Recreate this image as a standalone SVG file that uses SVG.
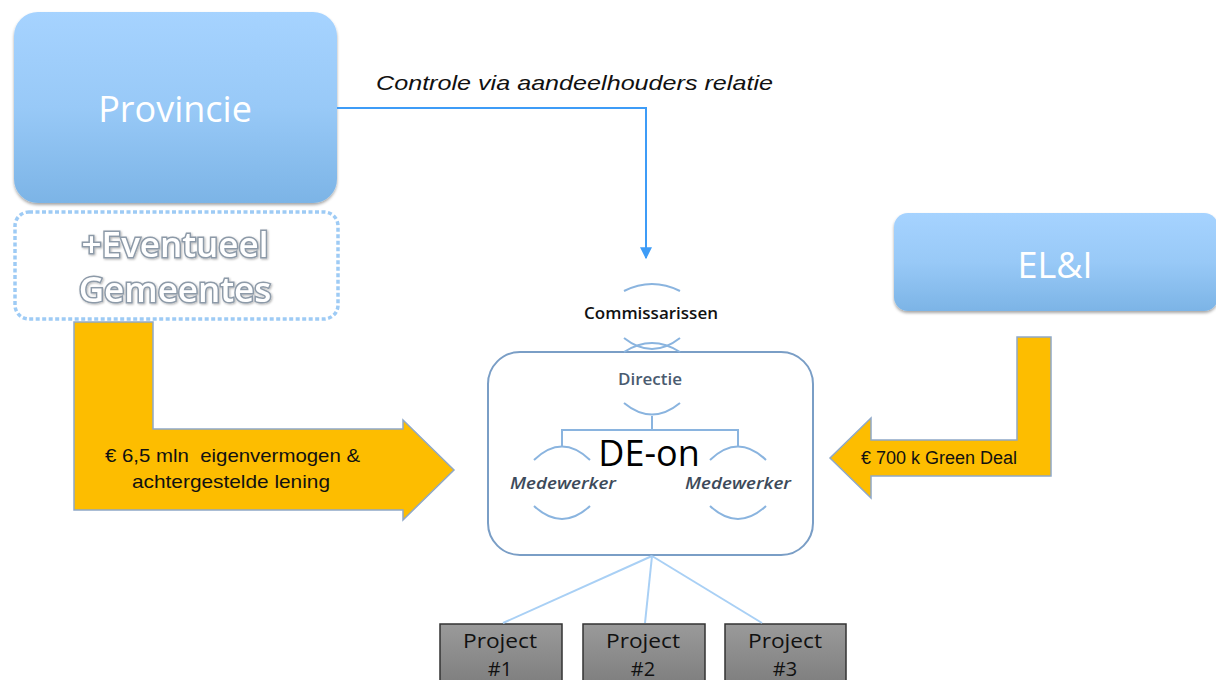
<svg xmlns="http://www.w3.org/2000/svg" width="1216" height="680" viewBox="0 0 1216 680">
<defs>
  <linearGradient id="blueGrad" x1="0" y1="0" x2="0" y2="1">
    <stop offset="0" stop-color="#a6d3ff"/>
    <stop offset="0.5" stop-color="#98c9f7"/>
    <stop offset="1" stop-color="#7cb4e6"/>
  </linearGradient>
  <linearGradient id="grayGrad" x1="0" y1="0" x2="0" y2="1">
    <stop offset="0" stop-color="#9a9a9a"/>
    <stop offset="1" stop-color="#7a7a7a"/>
  </linearGradient>
  <filter id="shadow" x="-5%" y="-5%" width="110%" height="115%">
    <feDropShadow dx="0" dy="2" stdDeviation="1.5" flood-color="#000" flood-opacity="0.35"/>
  </filter>
  <filter id="txtShadow" x="-5%" y="-10%" width="110%" height="130%">
    <feDropShadow dx="1" dy="1" stdDeviation="0.8" flood-color="#000" flood-opacity="0.3"/>
  </filter>
  <marker id="arrowBlue" viewBox="0 0 10 10" refX="9" refY="5" markerWidth="6" markerHeight="6" orient="auto" markerUnits="strokeWidth">
    <path d="M0,0 L10,5 L0,10 z" fill="#3e9cf7"/>
  </marker>
</defs>
<style>
  .bluebox { fill: url(#blueGrad); filter: url(#shadow); }
  .bigwhite { font-family: "Open Sans", "Noto Sans", sans-serif; font-size: 36px; fill: #ffffff; text-anchor: middle; }
  .outlined { font-family: "Open Sans", "Noto Sans", sans-serif; font-size: 35px; fill: #ffffff; stroke: #8d9aa8; stroke-width: 3; paint-order: stroke; text-anchor: middle; font-weight: 600; }
  .yellow { fill: #fdbd00; stroke: #8fa8c8; stroke-width: 1.5; }
  .label18 { font-family: "Liberation Sans", Arial, sans-serif; font-size: 18px; fill: #111; }
  .label20 { font-family: "Liberation Sans", Arial, sans-serif; font-size: 19px; fill: #111; }
  .arc { fill: none; stroke: #8ab4df; stroke-width: 2; }
  .orgline { fill: none; stroke: #8ab4df; stroke-width: 2; }
  .orgtext { font-family: "Open Sans", "Noto Sans", sans-serif; font-size: 17px; text-anchor: middle; font-weight: 600; }
  .projline { stroke: #a9d0f5; stroke-width: 2; }
  .proj { fill: url(#grayGrad); stroke: #333; stroke-width: 1.5; }
  .projtext { font-family: "Open Sans", "Noto Sans", sans-serif; font-size: 20px; fill: #111; text-anchor: middle; }
</style>

<g id="provincie">
  <rect class="bluebox" x="14" y="12" width="323" height="191" rx="24"/>
  <text class="bigwhite" x="175" y="122">Provincie</text>
</g>

<g id="gemeentes">
  <rect x="15" y="212" width="323" height="107" rx="14" fill="#ffffff" stroke="#9ecbf5" stroke-width="3.5" stroke-dasharray="4 2.5"/>
  <text class="outlined" x="175" y="257" filter="url(#txtShadow)">+Eventueel</text>
  <text class="outlined" x="175" y="302" filter="url(#txtShadow)">Gemeentes</text>
</g>

<g id="eli">
  <rect class="bluebox" x="894" y="213" width="324" height="98" rx="14"/>
  <text class="bigwhite" x="1055" y="278">EL&amp;I</text>
</g>

<g id="deon">
  <rect x="488" y="352" width="325" height="203" rx="32" fill="#ffffff" stroke="#7a9ec6" stroke-width="2"/>
  <text x="649" y="466" font-family="'Open Sans', 'Noto Sans', sans-serif" font-size="36" fill="#000" text-anchor="middle">DE-on</text>
</g>

<g id="commissarissen">
  <path class="arc" d="M624,291 Q652,277 680,291"/>
  <path class="arc" d="M624,338 Q652,360 680,338"/>
  <text class="orgtext" x="651" y="319" fill="#111">Commissarissen</text>
</g>

<g id="directie">
  <path class="arc" d="M624,352 Q652,334 680,352"/>
  <path class="arc" d="M624,403 Q652,426 680,403"/>
  <text class="orgtext" x="650" y="385" fill="#4a5b70">Directie</text>
</g>

<g id="medewerker1">
  <path class="arc" d="M534,460 Q562,433 590,460"/>
  <path class="arc" d="M534,506 Q562,532 590,506"/>
  <text class="orgtext" x="563" y="489" fill="#3d4a5a" font-style="italic" textLength="106" lengthAdjust="spacingAndGlyphs">Medewerker</text>
</g>

<g id="medewerker2">
  <path class="arc" d="M710,460 Q738,433 766,460"/>
  <path class="arc" d="M710,506 Q738,532 766,506"/>
  <text class="orgtext" x="738" y="489" fill="#3d4a5a" font-style="italic" textLength="106" lengthAdjust="spacingAndGlyphs">Medewerker</text>
</g>

<g id="project1">
  <rect class="proj" x="440" y="624" width="122" height="70"/>
  <text class="projtext" x="500" y="648" textLength="74" lengthAdjust="spacingAndGlyphs">Project</text>
  <text class="projtext" x="500" y="676">#1</text>
</g>
<g id="project2">
  <rect class="proj" x="583" y="624" width="122" height="70"/>
  <text class="projtext" x="643" y="648" textLength="74" lengthAdjust="spacingAndGlyphs">Project</text>
  <text class="projtext" x="643" y="676">#2</text>
</g>
<g id="project3">
  <rect class="proj" x="725" y="624" width="121" height="70"/>
  <text class="projtext" x="785" y="648" textLength="74" lengthAdjust="spacingAndGlyphs">Project</text>
  <text class="projtext" x="785" y="676">#3</text>
</g>

<g id="connectors">
  <polyline points="337,108 646,108 646,258" fill="none" stroke="#3e9cf7" stroke-width="2" marker-end="url(#arrowBlue)"/>
  <text x="376" y="90" font-family="'Liberation Sans', Arial, sans-serif" font-size="21" font-style="italic" fill="#111" textLength="397" lengthAdjust="spacingAndGlyphs">Controle via aandeelhouders relatie</text>

  <path class="orgline" d="M652,416 V430 M562,446 V430 H738 V446"/>

  <line class="projline" x1="652" y1="556" x2="503" y2="623"/>
  <line class="projline" x1="652" y1="556" x2="645" y2="623"/>
  <line class="projline" x1="652" y1="556" x2="762" y2="623"/>

  <g id="arrow-left-funding">
    <path class="yellow" d="M74,322 L153,322 L153,429 L403,429 L403,420 L454,470 L403,520 L403,510 L74,510 Z"/>
    <text class="label20" x="105" y="462" xml:space="preserve" textLength="255" lengthAdjust="spacingAndGlyphs">€ 6,5 mln  eigenvermogen &amp;</text>
    <text class="label20" x="132" y="488" textLength="198" lengthAdjust="spacingAndGlyphs">achtergestelde lening</text>
  </g>

  <g id="arrow-right-funding">
    <path class="yellow" d="M1017,337 L1051,337 L1051,476 L871,476 L871,498 L830,458 L871,418 L871,440 L1017,440 Z"/>
    <text class="label18" x="861" y="464">€ 700 k Green Deal</text>
  </g>
</g>
</svg>
